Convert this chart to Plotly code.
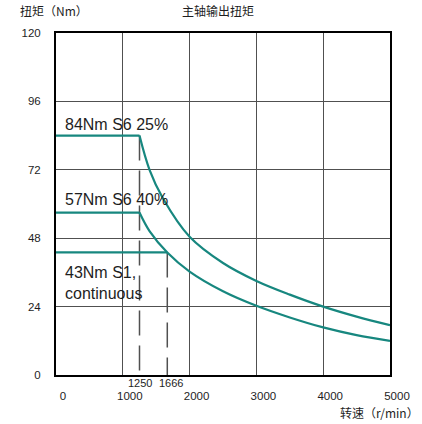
import plotly.graph_objects as go

# Spindle output torque vs speed
speed_flat = [0, 1250]
s6_25_flat = [84, 84]
s6_40_flat = [57, 57]
s1_speed = [0, 1666]
s1_torque = [43, 43]

speed_s6_25 = [1250, 1400, 1600, 2000, 2500, 3000, 3500, 4000, 4500, 5000]
torque_s6_25 = [84, 72, 62, 48.5, 39.3, 33, 28.2, 24, 20.5, 17.5]

speed_s6_40 = [1250, 1400, 1666, 2000, 2500, 3000, 3500, 4000, 4500, 5000]
torque_s6_40 = [57, 50.5, 43, 36.3, 29.4, 24.3, 20.2, 16.7, 14, 12]

corner_speeds = [1250, 1666]
corner_torques = [84, 43]
corner_label_shift = [0, 4]

x_ticks = [0, 1000, 2000, 3000, 4000, 5000]
y_ticks = [0, 24, 48, 72, 96, 120]

curve_labels = ["84Nm S6 25%", "57Nm S6 40%", "43Nm S1,<br>continuous"]
curve_label_y = [88, 61.5, 32.3]

TEAL = "#17877f"
GRID = "#505050"
TXT = "#1e1e1e"
LATIN = "Liberation Sans, Arial, sans-serif"
CJK = "Noto Sans CJK SC, sans-serif"

fig = go.Figure()

# dashed markers at the corner speeds
for sp, tq in zip(corner_speeds, corner_torques):
    fig.add_trace(go.Scatter(x=[sp, sp], y=[tq, 0], mode="lines",
                             line=dict(color=GRID, width=1.5, dash="25px,10px"),
                             hoverinfo="skip"))

for xs, ys in [(speed_flat, s6_25_flat), (speed_flat, s6_40_flat), (s1_speed, s1_torque)]:
    fig.add_trace(go.Scatter(x=xs, y=ys, mode="lines",
                             line=dict(color=TEAL, width=2.2)))

for xs, ys in [(speed_s6_25, torque_s6_25), (speed_s6_40, torque_s6_40)]:
    fig.add_trace(go.Scatter(x=xs, y=ys, mode="lines",
                             line=dict(color=TEAL, width=2.2, shape="spline", smoothing=1)))

annotations = []
for txt, yv in zip(curve_labels, curve_label_y):
    annotations.append(dict(x=100, y=yv, xref="x", yref="y", text=txt, showarrow=False,
                            xanchor="left", yanchor="middle", align="left",
                            font=dict(family=LATIN, size=16, color=TXT)))

for sp, sh in zip(corner_speeds, corner_label_shift):
    annotations.append(dict(x=sp, y=0, xref="x", yref="y", text=str(sp), showarrow=False,
                            xanchor="center", yanchor="top", yshift=0, xshift=sh,
                            font=dict(family=LATIN, size=11, color=TXT)))

annotations += [
    dict(x=-0.114, y=1.065, xref="paper", yref="paper", text="扭矩（Nm）", showarrow=False,
         xanchor="left", yanchor="middle", font=dict(family=CJK, size=12, color=TXT)),
    dict(x=0.485, y=1.065, xref="paper", yref="paper", text="主轴输出扭矩", showarrow=False,
         xanchor="center", yanchor="middle", font=dict(family=CJK, size=12, color=TXT)),
    dict(x=1.092, y=-0.11, xref="paper", yref="paper", text="转速（r/min）", showarrow=False,
         xanchor="right", yanchor="middle", font=dict(family=CJK, size=12, color=TXT)),
]

fig.update_layout(
    width=422, height=424,
    margin=dict(l=56, r=24, t=33, b=49),
    paper_bgcolor="white", plot_bgcolor="white",
    showlegend=False,
    annotations=annotations,
)

fig.update_xaxes(range=[0, 5000], tickvals=x_ticks, ticktext=[str(v) for v in x_ticks],
                 showgrid=True, gridcolor=GRID, gridwidth=1, zeroline=False,
                 showline=True, linecolor="black", linewidth=2, mirror=True,
                 ticks="", ticklabelstandoff=9, ticklabelshift=7,
                 tickfont=dict(family=LATIN, size=11.5, color=TXT))
fig.update_yaxes(range=[0, 120], tickvals=y_ticks, ticktext=[str(v) for v in y_ticks],
                 showgrid=True, gridcolor=GRID, gridwidth=1, zeroline=False,
                 showline=True, linecolor="black", linewidth=2, mirror=True,
                 ticks="", ticklabelstandoff=11,
                 tickfont=dict(family=LATIN, size=11.5, color=TXT))

fig.write_html("out.html")
